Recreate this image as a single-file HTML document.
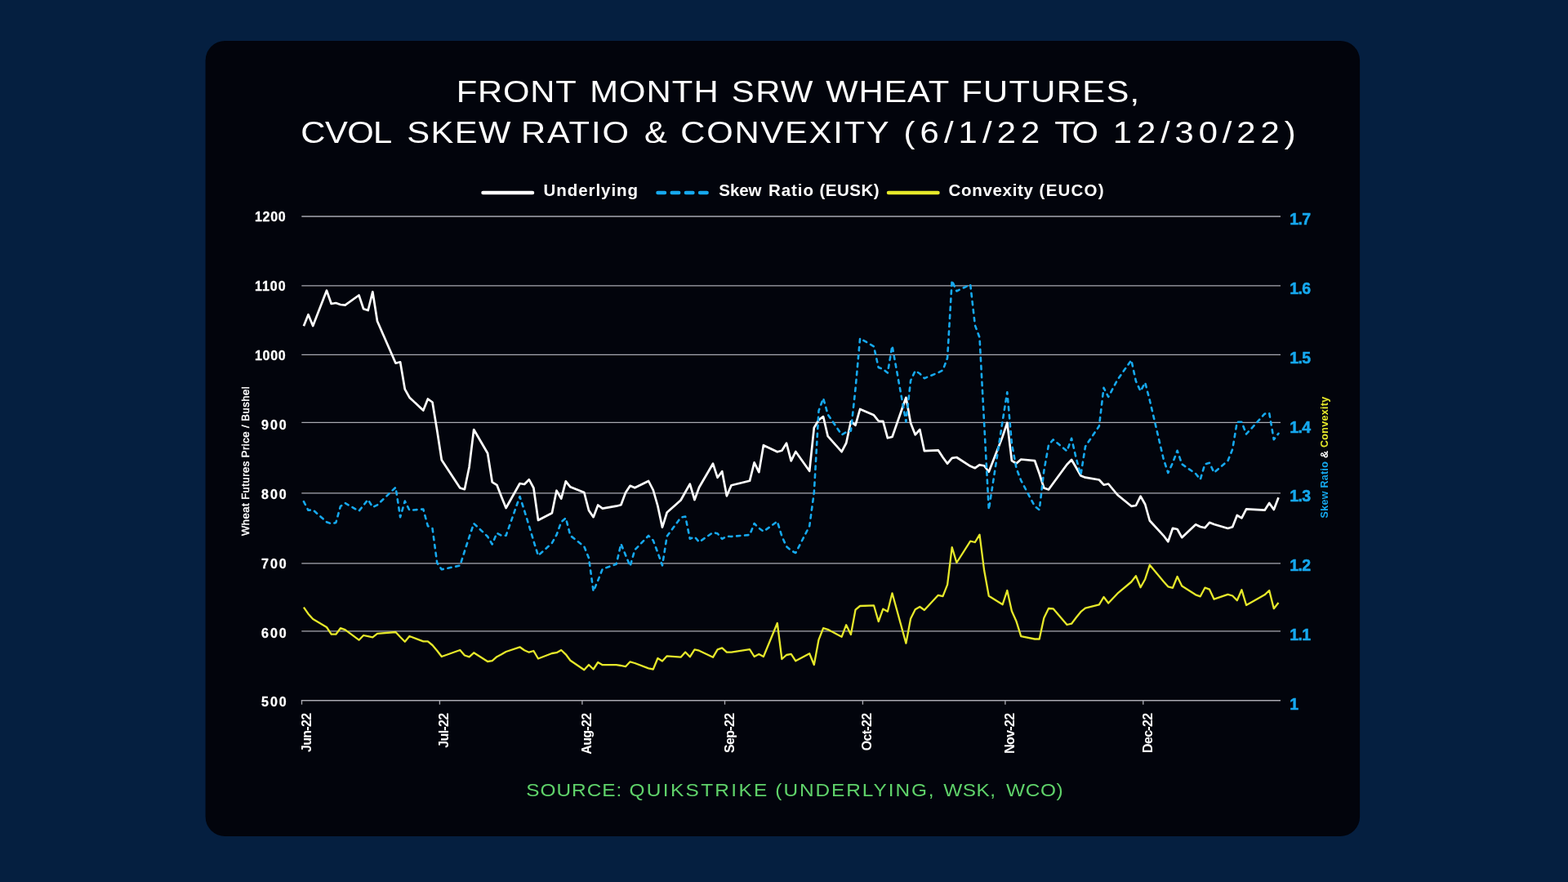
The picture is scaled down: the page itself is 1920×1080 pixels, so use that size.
<!DOCTYPE html>
<html lang="en"><head><meta charset="utf-8"><title>Front Month SRW Wheat Futures, CVOL Skew Ratio &amp; Convexity</title>
<style>
html,body{margin:0;padding:0;background:#051f40;}
body{width:1920px;height:1080px;overflow:hidden;position:relative;font-family:"Liberation Sans",sans-serif;}
svg{position:absolute;left:0;top:0;display:block}
text{font-family:"Liberation Sans",sans-serif;}
.tw{fill:#fff;font-size:37.3px}
.lg{fill:#fff;font-size:20.5px;font-weight:bold}
.ll{fill:#fff;font-size:16px;font-weight:bold;stroke:#fff;stroke-width:0.3px}
.rl{fill:#16a8ee;font-size:19.5px;font-weight:bold;letter-spacing:-0.6px;stroke:#16a8ee;stroke-width:0.5px}
.xl{fill:#fff;font-size:16px;font-weight:bold;letter-spacing:-0.7px;text-anchor:end}
.at{fill:#fff;font-size:13px;text-anchor:middle;letter-spacing:0.5px;stroke:#fff;stroke-width:0.45px}
.rt{font-size:12.5px;font-weight:bold;text-anchor:middle;letter-spacing:0.3px}
.src{fill:#5fd26a;font-size:21.8px}
</style></head><body>
<svg width="1920" height="1080" viewBox="0 0 1920 1080">
<rect x="0" y="0" width="1920" height="1080" fill="#051f40"/>
<rect x="251.6" y="50" width="1413.5" height="974" rx="24" ry="24" fill="#02040c"/>
<text class="tw" y="125.5" transform="scale(1.12 1)"><tspan x="498.79" style="letter-spacing:0.75px">FRONT</tspan> <tspan x="644.77" style="letter-spacing:0.96px">MONTH</tspan> <tspan x="799.89" style="letter-spacing:1.26px">SRW</tspan> <tspan x="902.95" style="letter-spacing:0.7px">WHEAT</tspan> <tspan x="1051.02" style="letter-spacing:1.17px">FUTURES,</tspan></text>
<text class="tw" y="175.5" transform="scale(1.12 1)"><tspan x="328.91" style="letter-spacing:-0.54px">CVOL</tspan> <tspan x="444.98" style="letter-spacing:1.19px">SKEW</tspan> <tspan x="569.59" style="letter-spacing:1.66px">RATIO</tspan> <tspan x="704.36" style="letter-spacing:0px">&amp;</tspan> <tspan x="744.09" style="letter-spacing:1.55px">CONVEXITY</tspan> <tspan x="988.0" style="letter-spacing:5.45px">(6/1/22</tspan> <tspan x="1152.95" style="letter-spacing:-3.23px">TO</tspan> <tspan x="1216.75" style="letter-spacing:5.28px">12/30/22)</tspan></text>
<g stroke-linecap="round" fill="none" stroke-width="4.5">
<line x1="591.5" y1="236" x2="652" y2="236" stroke="#fff"/>
<line x1="805.5" y1="236" x2="866" y2="236" stroke="#16a8ee" stroke-dasharray="8.5 8.7"/>
<line x1="1088" y1="236" x2="1148.5" y2="236" stroke="#e6e82a"/>
</g>
<text class="lg" y="239.8"><tspan x="665.5" style="letter-spacing:0.95px">Underlying</tspan></text>
<text class="lg" y="239.8"><tspan x="880.3" style="letter-spacing:-0.06px">Skew</tspan> <tspan x="941.0" style="letter-spacing:0.92px">Ratio</tspan> <tspan x="1003.4" style="letter-spacing:0.54px">(EUSK)</tspan></text>
<text class="lg" y="239.8"><tspan x="1161.5" style="letter-spacing:0.68px">Convexity</tspan> <tspan x="1272.6" style="letter-spacing:1.23px">(EUCO)</tspan></text>
<g stroke="#a9a9b1" stroke-width="1.35" fill="none">
<line x1="369.3" y1="265" x2="1568" y2="265"/>
<line x1="369.3" y1="349.8" x2="1568" y2="349.8"/>
<line x1="369.3" y1="434.3" x2="1568" y2="434.3"/>
<line x1="369.3" y1="517.4" x2="1568" y2="517.4"/>
<line x1="369.3" y1="603.9" x2="1568" y2="603.9"/>
<line x1="369.3" y1="689.8" x2="1568" y2="689.8"/>
<line x1="369.3" y1="772.9" x2="1568" y2="772.9"/>
<line x1="368.8" y1="857.7" x2="1568" y2="857.7"/>
<line x1="369.5" y1="857.7" x2="369.5" y2="862.7"/>
<line x1="538.4" y1="857.7" x2="538.4" y2="862.7"/>
<line x1="712.9" y1="857.7" x2="712.9" y2="862.7"/>
<line x1="887.5" y1="857.7" x2="887.5" y2="862.7"/>
<line x1="1056.4" y1="857.7" x2="1056.4" y2="862.7"/>
<line x1="1230.9" y1="857.7" x2="1230.9" y2="862.7"/>
<line x1="1399.8" y1="857.7" x2="1399.8" y2="862.7"/>
</g>
<text class="ll" y="271.3"><tspan x="312.0" style="letter-spacing:0.67px">1200</tspan></text>
<text class="ll" y="356.2"><tspan x="312.0" style="letter-spacing:0.96px">1100</tspan></text>
<text class="ll" y="441.0"><tspan x="312.0" style="letter-spacing:0.67px">1000</tspan></text>
<text class="ll" y="525.9"><tspan x="320.1" style="letter-spacing:1.9px">900</tspan></text>
<text class="ll" y="610.8"><tspan x="320.1" style="letter-spacing:1.9px">800</tspan></text>
<text class="ll" y="695.7"><tspan x="320.1" style="letter-spacing:1.9px">700</tspan></text>
<text class="ll" y="780.5"><tspan x="320.1" style="letter-spacing:1.9px">600</tspan></text>
<text class="ll" y="865.4"><tspan x="320.1" style="letter-spacing:1.9px">500</tspan></text>
<text class="rl" x="1579.3" y="275.0">1.7</text>
<text class="rl" x="1579.3" y="359.9">1.6</text>
<text class="rl" x="1579.3" y="444.7">1.5</text>
<text class="rl" x="1579.3" y="529.6">1.4</text>
<text class="rl" x="1579.3" y="614.4">1.3</text>
<text class="rl" x="1579.3" y="699.3">1.2</text>
<text class="rl" x="1579.3" y="784.2">1.1</text>
<text class="rl" x="1579.3" y="869.0">1</text>
<text class="xl" transform="translate(380.5 873.6) rotate(-90)">Jun-22</text>
<text class="xl" transform="translate(549.4 873.6) rotate(-90)">Jul-22</text>
<text class="xl" transform="translate(723.9 873.6) rotate(-90)">Aug-22</text>
<text class="xl" transform="translate(898.5 873.6) rotate(-90)">Sep-22</text>
<text class="xl" transform="translate(1067.4 873.6) rotate(-90)">Oct-22</text>
<text class="xl" transform="translate(1241.9 873.6) rotate(-90)">Nov-22</text>
<text class="xl" transform="translate(1410.8 873.6) rotate(-90)">Dec-22</text>
<text class="at" transform="translate(304.9 564.5) rotate(-90)">Wheat Futures Price / Bushel</text>
<text class="rt" transform="translate(1625.7 560) rotate(-90)"><tspan fill="#16a8ee">Skew Ratio</tspan><tspan fill="#fff"> &amp; </tspan><tspan fill="#e6e82a">Convexity</tspan></text>
<g fill="none" stroke-linejoin="round">
<polyline stroke="#fff" stroke-width="2.7" points="371.9,399.2 377.5,385.2 383.2,399.0 400.0,355.7 405.7,372.0 411.3,371.0 416.9,373.0 422.6,373.7 439.5,361.5 445.1,378.3 450.7,380.0 456.3,357.3 462.0,393.3 484.5,444.7 490.1,443.3 495.8,476.7 501.4,486.7 518.3,502.5 523.9,488.5 529.5,492.5 535.2,527.0 540.8,563.3 563.3,597.5 568.9,599.2 574.6,571.7 580.2,526.0 597.1,555.0 602.7,590.3 608.4,593.8 614.0,608.3 619.6,622.0 636.5,592.0 642.1,593.0 647.8,587.2 653.4,597.5 659.0,637.0 675.9,628.3 681.5,600.7 687.2,610.7 692.8,589.3 698.4,596.3 715.3,603.0 721.0,625.0 726.6,633.2 732.2,618.5 737.8,622.7 754.7,619.7 760.4,618.3 766.0,603.3 771.6,594.8 777.3,597.3 794.1,589.0 799.8,600.0 805.4,619.5 811.0,645.7 816.7,627.5 833.6,612.5 839.2,602.5 844.8,592.7 850.5,612.0 856.1,596.7 873.0,567.7 878.6,584.8 884.2,577.2 889.9,607.3 895.5,594.2 918.0,588.8 923.6,566.3 929.3,578.2 934.9,545.2 951.8,553.3 957.4,551.7 963.0,542.7 968.7,564.3 974.3,553.0 991.2,576.8 996.8,523.7 1002.5,514.2 1008.1,510.2 1013.7,534.2 1030.6,553.2 1036.2,542.5 1041.9,516.0 1047.5,520.7 1053.1,501.0 1070.0,508.3 1075.7,515.5 1081.3,515.8 1086.9,536.3 1092.5,535.0 1109.4,486.8 1115.1,518.0 1120.7,532.3 1126.3,526.0 1131.9,552.2 1148.8,551.3 1154.5,560.0 1160.1,567.7 1165.7,560.8 1171.4,560.0 1188.2,570.8 1193.9,573.2 1199.5,569.2 1205.1,570.3 1210.8,577.7 1227.7,534.4 1233.3,517.7 1238.9,564.2 1244.5,567.5 1250.2,562.5 1267.1,564.2 1272.7,580.0 1278.3,597.5 1284.0,599.5 1289.6,591.7 1306.5,568.7 1312.1,563.0 1317.7,572.5 1323.4,582.5 1329.0,584.7 1345.9,587.5 1351.5,593.7 1357.2,592.5 1368.4,606.0 1385.3,619.8 1390.9,619.0 1396.6,607.7 1402.2,617.5 1407.8,637.5 1424.7,655.8 1430.3,663.2 1436.0,646.8 1441.6,648.0 1447.2,658.2 1464.1,642.3 1469.8,645.0 1475.4,646.3 1481.0,639.8 1486.6,642.0 1503.5,647.0 1509.2,645.3 1514.8,631.0 1520.4,634.3 1526.1,623.3 1548.6,624.7 1554.2,616.0 1559.8,624.0 1565.5,609.2"/>
<polyline stroke="#e6e82a" stroke-width="2.3" points="371.9,743.7 377.5,751.7 383.2,758.0 400.0,768.0 405.7,776.7 411.3,776.7 416.9,769.2 422.6,771.2 439.5,783.7 445.1,778.0 450.7,779.2 456.3,780.3 462.0,775.8 484.5,774.0 490.1,780.0 495.8,785.7 501.4,779.0 518.3,785.3 523.9,785.3 529.5,790.0 535.2,796.7 540.8,804.0 563.3,796.0 568.9,802.5 574.6,804.3 580.2,799.3 597.1,810.0 602.7,809.2 608.4,804.2 614.0,801.3 619.6,798.0 636.5,792.3 642.1,796.3 647.8,798.7 653.4,797.0 659.0,806.5 675.9,800.0 681.5,799.2 687.2,796.0 692.8,801.3 698.4,808.7 715.3,820.2 721.0,814.0 726.6,819.5 732.2,811.0 737.8,814.2 754.7,814.2 760.4,815.0 766.0,816.2 771.6,810.3 777.3,812.0 794.1,818.3 799.8,819.5 805.4,806.0 811.0,809.5 816.7,803.3 833.6,804.7 839.2,798.5 844.8,804.3 850.5,795.3 856.1,796.7 873.0,804.8 878.6,795.3 884.2,793.3 889.9,798.7 895.5,798.7 918.0,795.2 923.6,804.0 929.3,801.0 934.9,804.0 951.8,763.0 957.4,807.0 963.0,802.0 968.7,800.8 974.3,809.3 991.2,800.2 996.8,814.0 1002.5,783.3 1008.1,769.2 1013.7,770.8 1030.6,779.8 1036.2,765.2 1041.9,777.0 1047.5,746.7 1053.1,742.0 1070.0,741.3 1075.7,761.0 1081.3,745.7 1086.9,748.7 1092.5,726.3 1109.4,787.7 1115.1,757.5 1120.7,746.3 1126.3,743.0 1131.9,747.0 1148.8,728.8 1154.5,730.2 1160.1,715.8 1165.7,670.2 1171.4,689.0 1188.2,662.7 1193.9,664.0 1199.5,654.7 1205.1,698.3 1210.8,729.7 1227.7,740.2 1233.3,723.0 1238.9,748.3 1244.5,760.8 1250.2,779.2 1267.1,782.5 1272.7,782.5 1278.3,756.7 1284.0,745.0 1289.6,745.3 1306.5,765.0 1312.1,763.7 1317.7,756.3 1323.4,749.2 1329.0,744.7 1345.9,740.3 1351.5,731.0 1357.2,738.5 1368.4,726.7 1385.3,712.5 1390.9,705.2 1396.6,719.3 1402.2,709.2 1407.8,691.8 1424.7,712.0 1430.3,718.3 1436.0,719.8 1441.6,706.0 1447.2,717.5 1464.1,728.3 1469.8,730.3 1475.4,719.7 1481.0,721.7 1486.6,733.7 1503.5,727.8 1509.2,729.5 1514.8,735.2 1520.4,722.2 1526.1,741.0 1548.6,728.3 1554.2,723.0 1559.8,745.2 1565.5,738.0"/>
<polyline stroke="#16a8ee" stroke-width="2.6" stroke-linecap="round" stroke-dasharray="4.3 5.7" points="371.9,614.2 377.5,624.8 383.2,624.3 400.0,639.2 405.7,641.3 411.3,640.0 416.9,620.0 422.6,616.0 439.5,625.7 445.1,618.7 450.7,611.8 456.3,621.0 462.0,618.3 484.5,596.8 490.1,633.2 495.8,613.5 501.4,624.8 518.3,623.5 523.9,644.2 529.5,647.0 535.2,689.2 540.8,697.3 563.3,692.5 568.9,675.0 574.6,657.5 580.2,641.0 597.1,657.0 602.7,666.5 608.4,652.7 614.0,655.8 619.6,655.8 636.5,608.0 642.1,625.2 647.8,643.8 653.4,662.5 659.0,680.3 675.9,665.0 681.5,655.0 687.2,639.2 692.8,634.3 698.4,655.8 715.3,669.2 721.0,683.3 726.6,724.0 732.2,710.8 737.8,696.7 754.7,690.8 760.4,666.0 766.0,679.7 771.6,693.2 777.3,673.3 794.1,656.0 799.8,661.7 805.4,676.7 811.0,692.3 816.7,656.7 833.6,633.7 839.2,632.5 844.8,659.8 850.5,657.3 856.1,663.7 873.0,652.0 878.6,653.3 884.2,659.8 889.9,656.7 895.5,657.0 918.0,655.0 923.6,641.0 929.3,646.7 934.9,650.7 951.8,638.5 957.4,656.7 963.0,669.2 968.7,674.2 974.3,677.0 991.2,644.2 996.8,603.3 1002.5,503.0 1008.1,487.7 1013.7,507.5 1030.6,532.3 1036.2,529.2 1041.9,527.5 1047.5,476.0 1053.1,414.3 1070.0,424.2 1075.7,450.0 1081.3,452.0 1086.9,456.5 1092.5,423.5 1109.4,516.5 1115.1,466.0 1120.7,454.0 1126.3,457.5 1131.9,463.2 1148.8,456.3 1154.5,453.3 1160.1,438.3 1165.7,343.5 1171.4,356.5 1188.2,348.5 1193.9,398.3 1199.5,413.3 1205.1,518.0 1210.8,624.0 1227.7,515.3 1233.3,480.2 1238.9,543.0 1244.5,573.3 1250.2,588.3 1267.1,620.0 1272.7,624.3 1278.3,576.7 1284.0,545.0 1289.6,538.3 1306.5,552.3 1312.1,536.8 1317.7,561.0 1323.4,581.5 1329.0,546.7 1345.9,521.7 1351.5,474.8 1357.2,486.0 1368.4,465.0 1385.3,441.0 1390.9,466.7 1396.6,479.0 1402.2,468.5 1407.8,490.0 1424.7,562.0 1430.3,579.0 1436.0,566.7 1441.6,551.8 1447.2,568.3 1464.1,580.0 1469.8,587.0 1475.4,568.3 1481.0,566.8 1486.6,578.7 1503.5,564.2 1509.2,550.0 1514.8,516.7 1520.4,516.7 1526.1,531.5 1548.6,506.7 1554.2,505.8 1559.8,538.2 1565.5,530.8"/>
</g>
<text class="src" y="974.6" transform="scale(1.12 1)"><tspan x="575.18" style="letter-spacing:0.9px">SOURCE:</tspan> <tspan x="688.02" style="letter-spacing:2.08px">QUIKSTRIKE</tspan> <tspan x="847.66" style="letter-spacing:1.72px">(UNDERLYING,</tspan> <tspan x="1031.43" style="letter-spacing:0.44px">WSK,</tspan> <tspan x="1100.09" style="letter-spacing:0.57px">WCO)</tspan></text>
</svg></body></html>
